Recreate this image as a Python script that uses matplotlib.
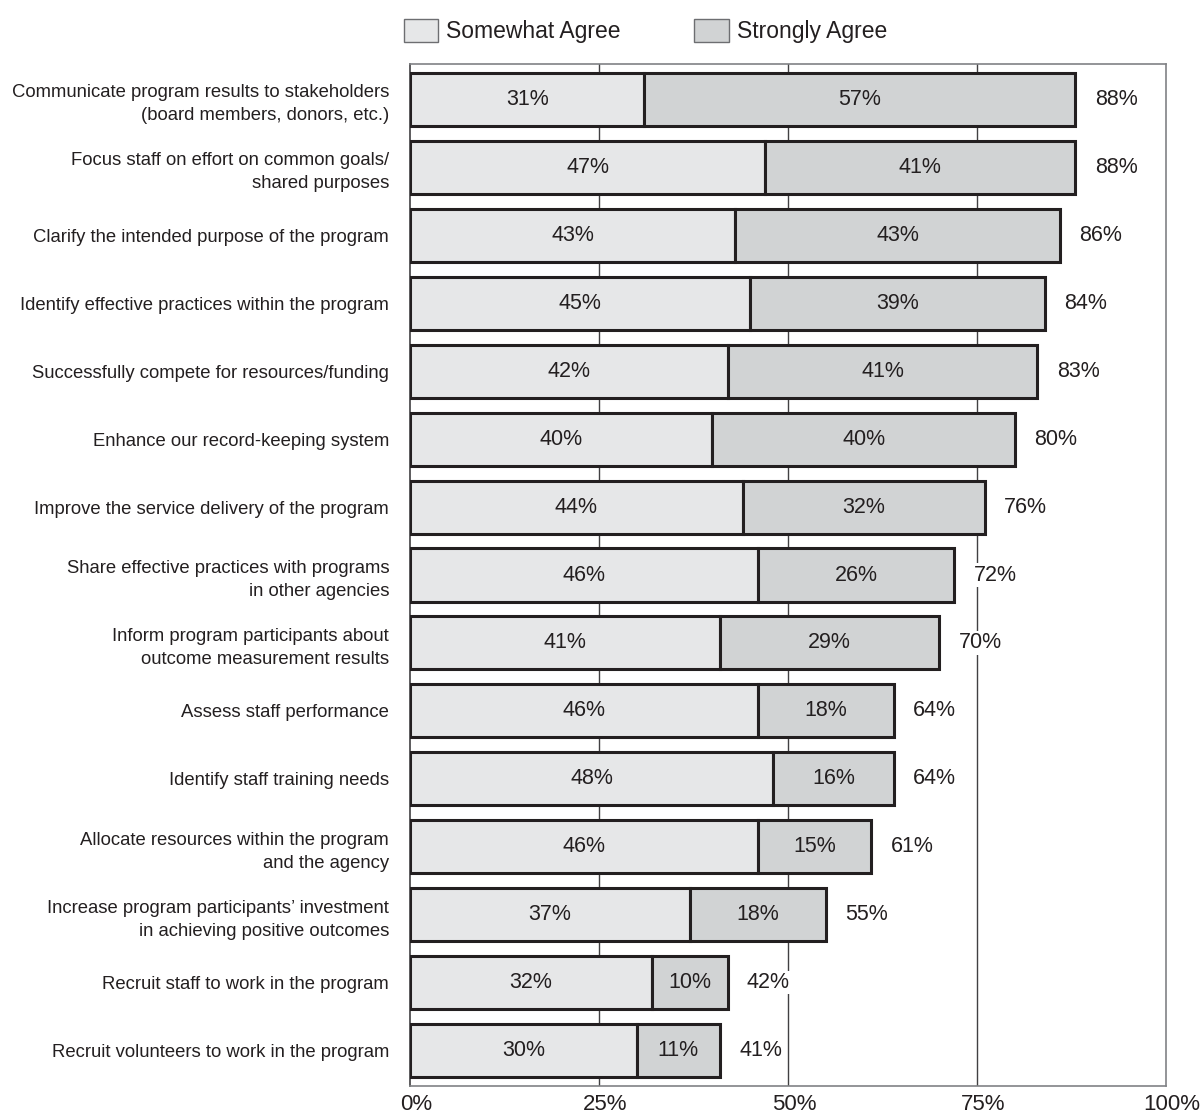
"""Horizontal stacked bars: uses of outcome measurement results"""
import matplotlib
matplotlib.use("Agg")
from matplotlib import pyplot as plt
from matplotlib.patches import Patch
from matplotlib.transforms import ScaledTranslation

labels = [
    "Communicate program results to stakeholders\n(board members, donors, etc.)",
    "Focus staff on effort on common goals/\nshared purposes",
    "Clarify the intended purpose of the program",
    "Identify effective practices within the program",
    "Successfully compete for resources/funding",
    "Enhance our record-keeping system",
    "Improve the service delivery of the program",
    "Share effective practices with programs\nin other agencies",
    "Inform program participants about\noutcome measurement results",
    "Assess staff performance",
    "Identify staff training needs",
    "Allocate resources within the program\nand the agency",
    "Increase program participants\u2019 investment\nin achieving positive outcomes",
    "Recruit staff to work in the program",
    "Recruit volunteers to work in the program",
]
somewhat = [31, 47, 43, 45, 42, 40, 44, 46, 41, 46, 48, 46, 37, 32, 30]
strongly = [57, 41, 43, 39, 41, 40, 32, 26, 29, 18, 16, 15, 18, 10, 11]
totals = [88, 88, 86, 84, 83, 80, 76, 72, 70, 64, 64, 61, 55, 42, 41]
xticks = [0, 25, 50, 75, 100]
xtick_labels = ["0%", "25%", "50%", "75%", "100%"]
series_names = ["Somewhat Agree", "Strongly Agree"]

INK = "#231f20"
LIGHT = "#e6e7e8"
MID = "#d1d3d4"
FONT = ["Liberation Sans", "DejaVu Sans"]

plt.rcParams["font.family"] = FONT
plt.rcParams["text.color"] = INK

fig = plt.figure(figsize=(12.03, 11.17), dpi=100)
ax = fig.add_axes([410 / 1203, 1 - 1086 / 1117, 756 / 1203, 1022 / 1117])

ypos = list(range(len(labels)))
ax.barh(ypos, somewhat, height=0.78, color=LIGHT, edgecolor=INK,
        linewidth=2.2, zorder=3)
ax.barh(ypos, strongly, left=somewhat, height=0.78, color=MID,
        edgecolor=INK, linewidth=2.2, zorder=3)

for y, s, t, tot in zip(ypos, somewhat, strongly, totals):
    ax.text(s / 2, y, f"{s}%", ha="center", va="center", fontsize=15.5,
            zorder=4)
    ax.text(s + t / 2, y, f"{t}%", ha="center", va="center", fontsize=15.5,
            zorder=4)
    ax.annotate(f"{tot}%", xy=(s + t, y), xytext=(14, 0),
                textcoords="offset points", ha="left", va="center",
                fontsize=15.5, zorder=4,
                bbox=dict(boxstyle="square,pad=0.05", fc="white", ec="none"))

ax.set_xlim(0, 100)
ax.set_ylim(14.52, -0.52)
ax.set_yticks(ypos)
ax.set_yticklabels(labels, fontsize=13.3, linespacing=1.45)
ax.set_xticks(xticks)
ax.set_xticklabels(xtick_labels, fontsize=16)
ax.tick_params(axis="both", length=0, colors=INK)
ax.tick_params(axis="y", pad=15)
ax.tick_params(axis="x", pad=6)
offset = ScaledTranslation(6 / 100, 0, fig.dpi_scale_trans)
for lbl in ax.get_xticklabels():
    lbl.set_transform(lbl.get_transform() + offset)

for x in xticks[1:-1]:
    ax.axvline(x, color="#414042", linewidth=1.0, zorder=1)
for side in ["top", "right", "bottom"]:
    ax.spines[side].set_color("#808285")
    ax.spines[side].set_linewidth(1.2)
ax.spines["left"].set_color("#414042")
ax.spines["left"].set_linewidth(1.2)

handles = [Patch(facecolor=LIGHT, edgecolor="#6d6e71", linewidth=1.0),
           Patch(facecolor=MID, edgecolor="#6d6e71", linewidth=1.0)]
fig.legend(handles, series_names, loc="upper left",
           bbox_to_anchor=(404 / 1203, 1 - 19 / 1117), ncol=2,
           frameon=False, fontsize=16.5, borderpad=0, borderaxespad=0,
           handlelength=1.5, handleheight=1.2, handletextpad=0.35,
           columnspacing=3.2)

fig.savefig("out.png", dpi=100)
